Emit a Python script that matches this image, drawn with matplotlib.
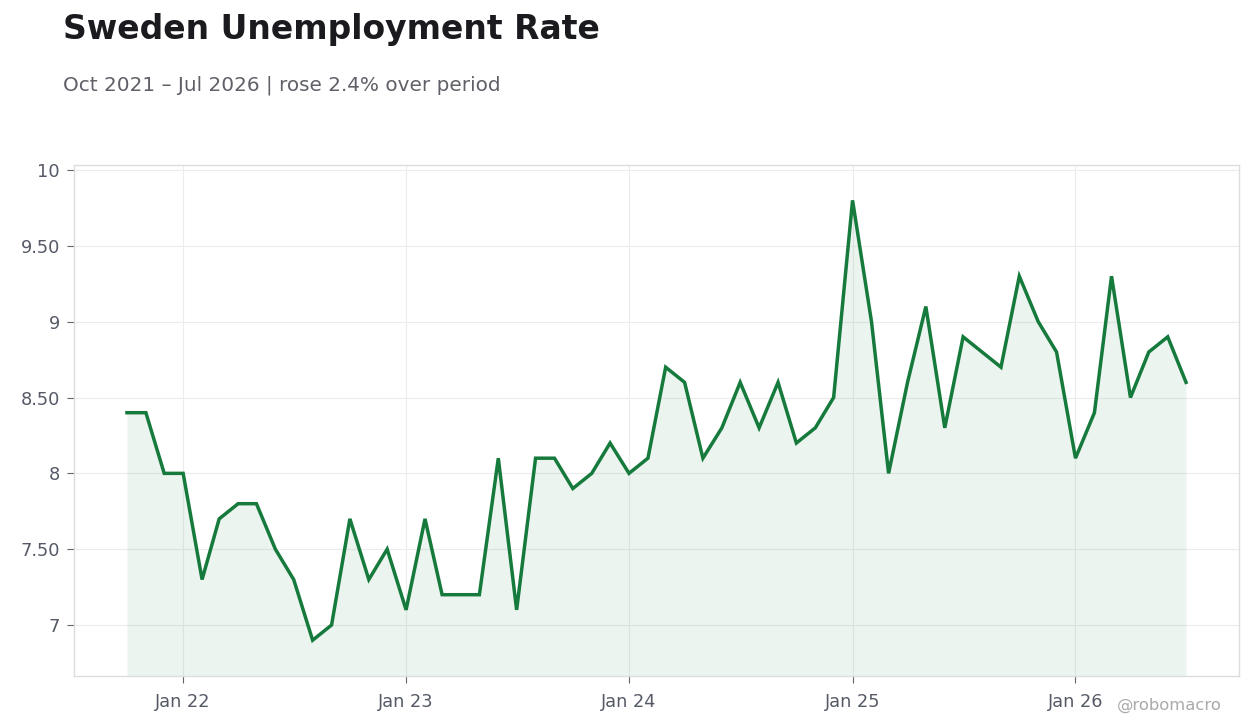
import matplotlib
matplotlib.use("Agg")
import matplotlib.pyplot as plt
import pandas as pd
from matplotlib.ticker import FuncFormatter, FixedLocator

plt.rcParams['font.family'] = ['DejaVu Sans']

months = pd.date_range("2021-10-01", "2026-07-01", freq="MS")
rates = [8.4, 8.4, 8.0,
         8.0, 7.3, 7.7, 7.8, 7.8, 7.5, 7.3, 6.9, 7.0, 7.7, 7.3, 7.5,
         7.1, 7.7, 7.2, 7.2, 7.2, 8.1, 7.1, 8.1, 8.1, 7.9, 8.0, 8.2,
         8.0, 8.1, 8.7, 8.6, 8.1, 8.3, 8.6, 8.3, 8.6, 8.2, 8.3, 8.5,
         9.8, 9.0, 8.0, 8.6, 9.1, 8.3, 8.9, 8.8, 8.7, 9.3, 9.0, 8.8,
         8.1, 8.4, 9.3, 8.5, 8.8, 8.9, 8.6]
y_ticks = [7, 7.5, 8, 8.5, 9, 9.5, 10]
x_tick_dates = pd.to_datetime(["2022-01-01", "2023-01-01", "2024-01-01", "2025-01-01", "2026-01-01"])
x_tick_labels = ["Jan 22", "Jan 23", "Jan 24", "Jan 25", "Jan 26"]

fig = plt.figure(figsize=(12.6, 7.28), dpi=100)
ax = fig.add_axes([74/1260, 52/728, (1239-74)/1260, (676-165)/728])

ymin, ymax = 6.664, 10.033
line_color = "#157a3c"
ax.fill_between(months, rates, ymin, color="#157a3c", alpha=0.08, linewidth=0)
ax.plot(months, rates, color=line_color, linewidth=2.5, solid_joinstyle="miter")

ax.set_ylim(ymin, ymax)
ax.margins(x=0.05)
ax.yaxis.set_major_locator(FixedLocator(y_ticks))
ax.yaxis.set_major_formatter(FuncFormatter(lambda v, p: f"{v:.0f}" if abs(v - round(v)) < 1e-9 else f"{v:.2f}"))
ax.set_xticks(x_tick_dates)
ax.set_xticklabels(x_tick_labels)

ax.grid(True, color="#ececec", linewidth=0.8)
ax.set_axisbelow(True)
for s in ax.spines.values():
    s.set_color("#dddddd")
    s.set_linewidth(1.0)
ax.tick_params(axis="both", colors="#666666", labelcolor="#555a66", labelsize=12.8, length=5, width=0.8)
ax.tick_params(axis="y", pad=5)
ax.tick_params(axis="x", pad=7)

fig.text(63/1260, 1 - 29/728, "Sweden Unemployment Rate", fontsize=23.8, fontweight="bold",
         color="#1a1a1f", va="center", ha="left")
fig.text(63/1260, 1 - 85/728, "Oct 2021 \u2013 Jul 2026 | rose 2.4% over period", fontsize=14.4,
         color="#5f6068", va="center", ha="left")
fig.text(1222/1260, 1 - 705/728, "@robomacro", fontsize=11.8, color="#aaaaaa", va="center", ha="right")

fig.savefig("out.png", dpi=100, facecolor="white")
